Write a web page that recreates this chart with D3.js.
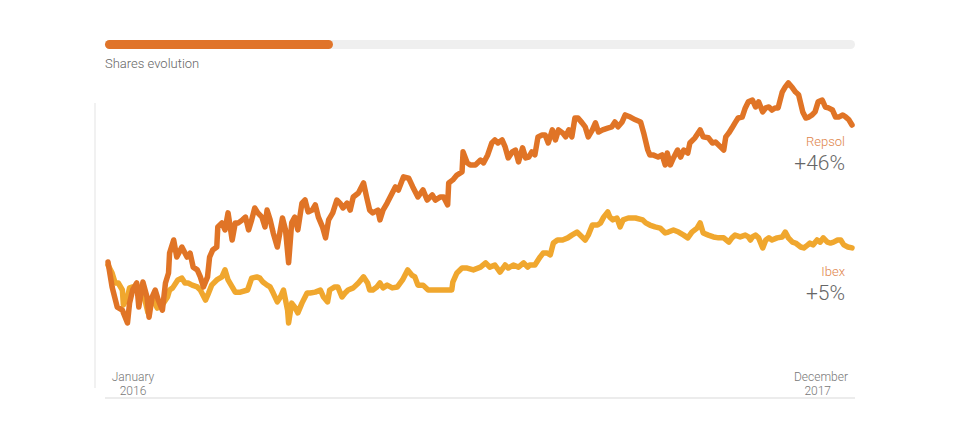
<!DOCTYPE html>
<html><head><meta charset="utf-8">
<script src="https://cdn.jsdelivr.net/npm/d3@7"></script>
<style>
body{margin:0;background:#fff;}
svg text{font-family:Roboto,"Noto Sans",sans-serif;font-weight:300;}
</style></head>
<body><svg id="c" width="960" height="440"></svg>
<script>
// day offsets from first trading day of January 2016 and % change from start
const repsolDays = [0,4,9,14,19,21,24,28,30,34,38,40,43,46,49,53,56,59,60,64,67,72,77,80,83,87,90,93,97,99,102,106,107,111,114,117,121,124,127,131,134,137,140,143,146,150,153,155,158,161,165,170,173,176,179,182,185,189,192,195,199,202,205,209,212,215,219,223,226,229,233,236,239,244,249,252,255,258,263,265,268,272,277,280,283,288,293,297,302,307,311,316,319,324,327,331,332,336,340,345,346,350,353,358,363,366,370,374,377,380,384,387,390,394,397,400,404,407,410,413,416,419,423,426,429,433,436,439,443,446,449,452,455,458,462,465,468,472,475,478,482,487,491,494,497,501,504,509,514,519,522,526,528,531,536,540,543,545,548,551,555,558,561,565,567,572,577,580,585,589,592,597,600,602,605,608,611,614,618,621,624,628,631,634,638,641,644,647,650,653,657,660,663,667,670,673,677,680,683,686,689,692,696,699,702,706,709,712,716,719,722,725];
const repsolValues = [1.0,-7.2,-13.8,-14.8,-19.0,-12.5,-8.2,-5.9,-13.8,-5.6,-10.5,-17.1,-10.5,-8.2,-11.5,-14.8,-5.9,-2.6,3.9,8.2,2.6,5.9,2.6,3.9,-0.7,-1.6,-3.9,-7.2,-3.9,2.6,4.9,5.9,12.5,13.8,11.5,17.1,8.2,13.8,13.8,14.8,15.7,11.5,14.8,18.7,17.1,15.7,12.5,18.0,14.8,10.5,5.9,15.4,11.5,0.7,13.8,15.7,11.5,20.3,21.3,17.4,18.0,19.7,15.7,12.5,8.9,14.8,17.1,21.3,20.3,18.7,20.3,18.0,22.3,23.6,26.9,22.3,18.0,17.1,18.0,14.8,18.0,20.3,23.6,25.6,24.6,28.9,28.5,25.6,22.3,24.6,21.3,23.0,21.3,22.3,22.3,19.7,26.9,27.9,29.5,30.5,37.1,33.5,32.8,32.8,34.4,33.5,36.1,40.0,41.0,40.0,41.0,38.7,35.1,37.1,37.7,33.8,38.4,35.1,35.4,37.1,36.1,42.0,42.6,42.6,40.0,44.3,41.0,44.3,43.3,42.0,44.3,42.0,48.2,48.2,46.6,45.3,42.0,44.3,46.6,43.6,44.3,44.9,45.3,46.9,45.3,46.9,49.2,48.5,47.6,46.9,43.3,37.7,36.1,36.1,35.4,36.1,32.8,36.7,32.8,35.1,37.7,35.4,37.7,36.7,40.0,41.7,44.3,42.0,41.7,40.0,40.3,38.7,37.7,42.0,43.3,44.9,46.6,48.2,48.5,51.5,53.5,54.1,51.8,53.5,50.2,51.5,51.8,50.8,51.5,51.5,56.7,58.4,59.7,58.1,56.7,55.8,50.2,48.2,48.5,49.2,50.2,53.5,54.1,51.8,51.5,50.8,48.5,48.5,49.2,48.5,47.6,45.9];
const ibexDays = [0,4,7,10,14,15,19,21,24,28,33,36,39,41,44,48,51,54,58,60,63,68,72,75,78,82,87,90,95,98,101,106,111,114,117,121,124,129,136,140,145,148,151,155,158,161,165,168,171,175,176,179,182,185,189,194,197,202,207,210,214,216,221,224,228,231,234,239,244,249,253,255,258,262,265,268,272,277,282,287,292,296,299,302,307,312,317,324,331,335,336,340,345,350,356,363,368,372,377,382,387,390,395,400,405,409,411,416,421,424,428,431,434,438,443,448,452,457,462,465,468,472,477,480,483,487,489,492,496,499,502,507,514,521,524,528,533,538,543,546,551,556,561,565,569,574,577,580,585,590,595,600,605,608,611,616,621,624,626,628,631,634,638,641,644,647,652,657,660,663,667,670,675,678,682,684,687,691,694,697,701,704,707,711,714,717,721,725];
const ibexValues = [0,-2.6,-5.9,-5.9,-8.2,-13.1,-10.5,-7.5,-7.2,-8.2,-10.5,-11.5,-15.7,-12.5,-11.5,-14.1,-13.1,-12.5,-10.5,-8.2,-7.5,-4.9,-4.3,-5.9,-5.9,-6.6,-7.2,-8.2,-11.5,-9.2,-6.6,-4.9,-3.9,-1.6,-4.9,-7.2,-8.9,-8.9,-8.2,-4.3,-3.9,-4.3,-5.6,-6.6,-7.2,-9.2,-12.1,-10.5,-8.2,-14.8,-19.0,-12.5,-13.8,-15.7,-12.5,-9.2,-9.2,-8.9,-8.2,-10.5,-12.1,-8.2,-7.2,-7.2,-10.5,-9.2,-8.2,-7.5,-5.9,-3.9,-5.9,-8.2,-8.2,-7.2,-5.9,-7.5,-6.6,-7.5,-7.2,-4.9,-1.6,-3.3,-3.9,-6.6,-6.6,-8.2,-8.2,-8.2,-8.2,-8.2,-5.6,-2.6,-1.0,-1.0,-1.6,-0.7,0.7,-0.7,0,-2.3,0,-1.0,0,-0.7,0.7,-0.7,0,0,2.6,3.9,3.9,3.3,7.2,8.2,8.2,8.9,9.8,10.8,9.2,8.2,9.8,13.1,13.1,13.8,15.7,17.4,15.7,14.8,15.4,12.5,14.8,15.4,15.4,14.8,13.8,13.1,12.5,12.1,10.5,10.8,11.5,10.8,9.8,8.9,10.8,12.1,13.8,10.5,9.8,9.2,8.9,8.9,7.5,8.9,9.8,9.2,9.8,9.2,8.2,9.2,9.8,8.9,5.6,8.2,8.9,8.2,8.9,9.2,10.8,8.9,7.5,7.2,5.9,5.6,6.6,7.2,6.6,8.2,7.5,8.9,7.5,7.2,7.5,8.2,8.2,6.6,5.9,5.6];
const seriesNames = ["Repsol", "Ibex"];
const seriesTotals = ["+46%", "+5%"];
const startLabel = ["January", "2016"];
const endLabel = ["December", "2017"];
const title = "Shares evolution";
const progress = 0.304;

const svg = d3.select("#c");
const x = d3.scaleLinear().domain([0, 725]).range([108, 852]);
const y = d3.scaleLinear().domain([-20, 60]).range([326, 82]);

// progress bar
const bar = d3.scaleLinear().domain([0, 1]).range([105, 855]);
svg.append("rect").attr("x", bar(0)).attr("y", 40).attr("width", bar(1) - bar(0)).attr("height", 9).attr("rx", 4.5).attr("fill", "#efefef");
svg.append("rect").attr("x", bar(0)).attr("y", 40).attr("width", bar(progress) - bar(0)).attr("height", 9).attr("rx", 4.5).attr("fill", "#e0742a");
svg.append("text").attr("x", 105).attr("y", 68).attr("font-size", 13).attr("fill", "#666").text(title);

// axes frames
svg.append("line").attr("x1", 95).attr("x2", 95).attr("y1", 103).attr("y2", 388).attr("stroke", "#ececec").attr("stroke-width", 1.5);
svg.append("line").attr("x1", 105).attr("x2", 855).attr("y1", 398).attr("y2", 398).attr("stroke", "#e6e6e6").attr("stroke-width", 1.5);

const line = d3.line().x(d => x(d[0])).y(d => y(d[1])).curve(d3.curveLinear);
const ibex = ibexDays.map((d, i) => [d, ibexValues[i]]);
const repsol = repsolDays.map((d, i) => [d, repsolValues[i]]);

svg.append("path").datum(ibex).attr("d", line).attr("fill", "none").attr("stroke", "#f0a72e").attr("stroke-width", 5.5).attr("stroke-linejoin", "round").attr("stroke-linecap", "round");
svg.append("path").datum(repsol).attr("d", line).attr("fill", "none").attr("stroke", "#e07426").attr("stroke-width", 5.5).attr("stroke-linejoin", "round").attr("stroke-linecap", "round");

// end labels
const labelData = [{name: seriesNames[0], total: seriesTotals[0], yv: repsolValues[repsolValues.length - 1], off: 21},
                   {name: seriesNames[1], total: seriesTotals[1], yv: ibexValues[ibexValues.length - 1], off: 28}];
labelData.forEach(d => {
  const yy = y(d.yv) + d.off;
  svg.append("text").attr("x", 845).attr("y", yy).attr("text-anchor", "end").attr("font-size", 13).attr("fill", "#e0844a").text(d.name);
  svg.append("text").attr("x", 845).attr("y", yy + 24).attr("text-anchor", "end").attr("font-size", 21).attr("fill", "#666").text(d.total);
});

// date labels
svg.append("text").attr("x", 133).attr("y", 381).attr("text-anchor", "middle").attr("font-size", 12).attr("fill", "#777").text(startLabel[0]);
svg.append("text").attr("x", 133).attr("y", 395).attr("text-anchor", "middle").attr("font-size", 12).attr("fill", "#777").text(startLabel[1]);
svg.append("text").attr("x", 848).attr("y", 381).attr("text-anchor", "end").attr("font-size", 12).attr("fill", "#777").text(endLabel[0]);
svg.append("text").attr("x", 831).attr("y", 395).attr("text-anchor", "end").attr("font-size", 12).attr("fill", "#777").text(endLabel[1]);
</script></body></html>
